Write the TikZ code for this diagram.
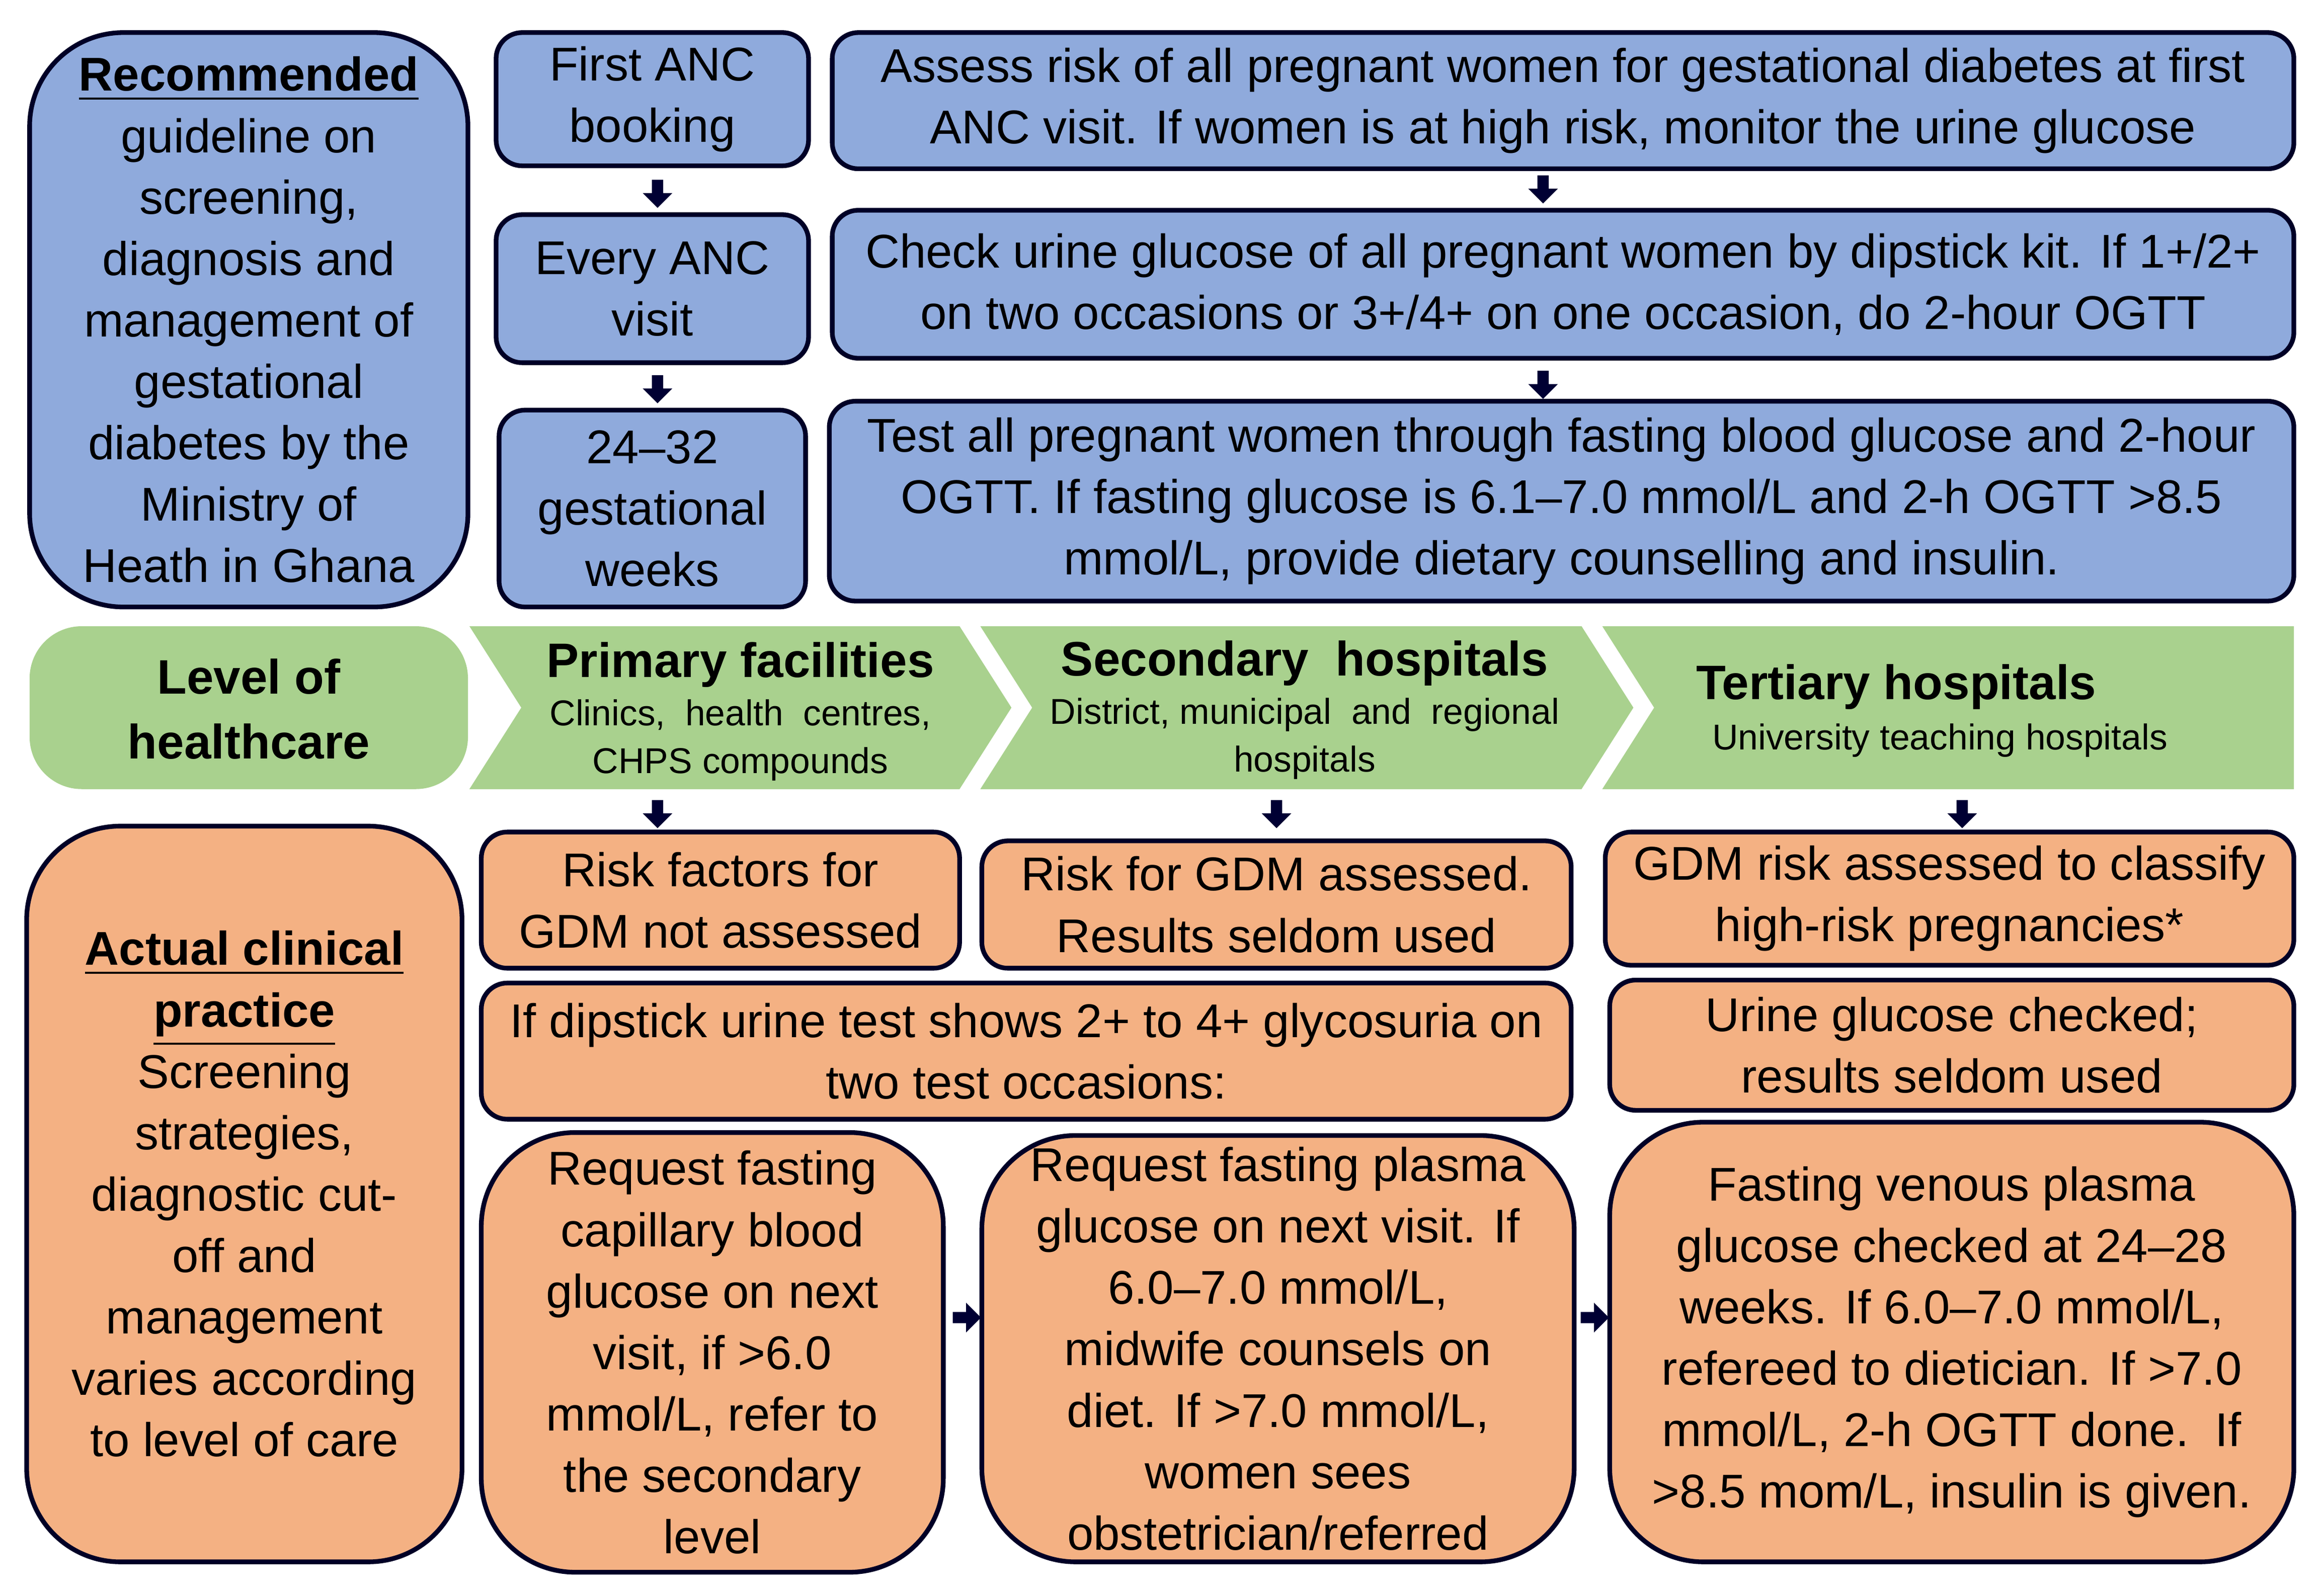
\documentclass[tikz,border=0pt]{standalone}
\usepackage{fontspec}
\setmainfont{Liberation Sans}
\usetikzlibrary{shapes.arrows}
\begin{document}
\begin{tikzpicture}[x=0.01cm,y=-0.01cm,
 bx/.style={draw=black!85!blue,line width=0.9pt,rounded corners=5pt,align=center,font=\fontsize{9.1}{11.8}\selectfont,inner sep=0pt},
 blue/.style={bx,fill=b},
 org/.style={bx,fill=o},
 dar/.style={single arrow,draw=none,fill=black!80!blue,minimum height=0.19cm,minimum width=0.2cm,single arrow head extend=0.04cm,inner sep=0.5pt,shape border rotate=270},
 rar/.style={dar,shape border rotate=0},
 hd/.style={font=\fontsize{9.3}{12.5}\selectfont\bfseries},
 sm/.style={align=center,font=\fontsize{6.9}{9.2}\selectfont}]
\definecolor{b}{HTML}{8FAADC}\definecolor{o}{HTML}{F4B183}\definecolor{g}{HTML}{A9D18E}
\useasboundingbox (0,0) rectangle (1568,1078);
\newcommand\bxat[6]{\node[#1,minimum width=#4*0.01cm-#2*0.01cm,minimum height=#5*0.01cm-#3*0.01cm] (#6) at ({(#2+#4)/2},{(#3+#5)/2})}
\bxat{blue,rounded corners=18pt}{20}{22}{316}{410}{rec}{\underline{\textbf{Recommended}}\\guideline on\\screening,\\diagnosis and\\management of\\gestational\\diabetes by the\\Ministry of\\Heath in Ghana};
\bxat{blue}{335}{22}{546}{112}{a1}{First ANC\\booking};
\bxat{blue}{335}{145}{546}{245}{a2}{Every ANC\\visit};
\bxat{blue}{337}{277}{544}{410}{a3}{24--32\\gestational\\weeks};
\bxat{blue}{562}{22}{1549}{114}{b1}{Assess risk of all pregnant women for gestational diabetes at first\\ANC visit. If women is at high risk, monitor the urine glucose};
\bxat{blue}{562}{142}{1549}{242}{b2}{Check urine glucose of all pregnant women by dipstick kit. If 1+/2+\\on two occasions or 3+/4+ on one occasion, do 2-hour OGTT};
\bxat{blue}{560}{271}{1549}{406}{b3}{Test all pregnant women through fasting blood glucose and 2-hour\\OGTT. If fasting glucose is 6.1--7.0 mmol/L and 2-h OGTT >8.5\\mmol/L, provide dietary counselling and insulin.};
\node[dar] (d1) at (444,129) {}; \node[dar] (d2) at (444,261) {};
\node[dar] (d3) at (1042,126) {}; \node[dar] (d4) at (1042,258) {};
% green band
\fill[g,rounded corners=10pt] (20,423) rectangle (316,533);
\node[align=center,hd] (lev) at (168,479) {Level of\\healthcare};
\fill[g] (317,423)--(648,423)--(683,478)--(648,533)--(317,533)--(352,478)--cycle;
\fill[g] (662,423)--(1068,423)--(1103,478)--(1068,533)--(662,533)--(697,478)--cycle;
\fill[g] (1082,423)--(1549,423)--(1549,533)--(1082,533)--(1117,478)--cycle;
\node[hd] (p) at (500,449) {Primary facilities};
\node[sm] (p2) at (500,500) {Clinics,\ \ health\ \ centres,\\CHPS compounds};
\node[hd] (s) at (881,448) {Secondary\ \ hospitals};
\node[sm] (s2) at (881,499) {District, municipal\ \ and\ \ regional\\hospitals};
\node[anchor=west,hd] (t) at (1133,464) {Tertiary hospitals};
\node[sm] (t2) at (1310,500) {University teaching hospitals};
\node[dar] (d5) at (444,548) {}; \node[dar] (d6) at (862,548) {}; \node[dar] (d7) at (1325,548) {};
% orange
\bxat{org,rounded corners=18pt}{18}{558}{312}{1055}{act}{\underline{\textbf{Actual clinical}}\\\underline{\textbf{practice}}\\Screening\\strategies,\\diagnostic cut-\\off and\\management\\varies according\\to level of care};
\bxat{org}{325}{562}{648}{654}{o1}{Risk factors for\\GDM not assessed};
\bxat{org}{663}{568}{1061}{654}{o2}{Risk for GDM assessed.\\Results seldom used};
\bxat{org}{1084}{562}{1549}{652}{o3}{GDM risk assessed to classify\\high-risk pregnancies*};
\bxat{org}{325}{664}{1061}{756}{o4}{If dipstick urine test shows 2+ to 4+ glycosuria on\\two test occasions:};
\bxat{org}{1087}{662}{1549}{750}{o5}{Urine glucose checked;\\results seldom used};
\bxat{org,rounded corners=18pt}{325}{765}{637}{1062}{o6}{Request fasting\\capillary blood\\glucose on next\\visit, if >6.0\\mmol/L, refer to\\the secondary\\level};
\bxat{org,rounded corners=18pt}{663}{767}{1063}{1055}{o7}{Request fasting plasma\\glucose on next visit. If\\6.0--7.0 mmol/L,\\midwife counsels on\\diet. If >7.0 mmol/L,\\women sees\\obstetrician/referred};
\bxat{org,rounded corners=18pt}{1087}{758}{1549}{1055}{o8}{Fasting venous plasma\\glucose checked at 24--28\\weeks. If 6.0--7.0 mmol/L,\\refereed to dietician. If >7.0\\mmol/L, 2-h OGTT done.\ \ If\\>8.5 mom/L, insulin is given.};
\node[rar] (r1) at (651,890) {}; \node[rar] (r2) at (1075,890) {};
\end{tikzpicture}
\end{document}
